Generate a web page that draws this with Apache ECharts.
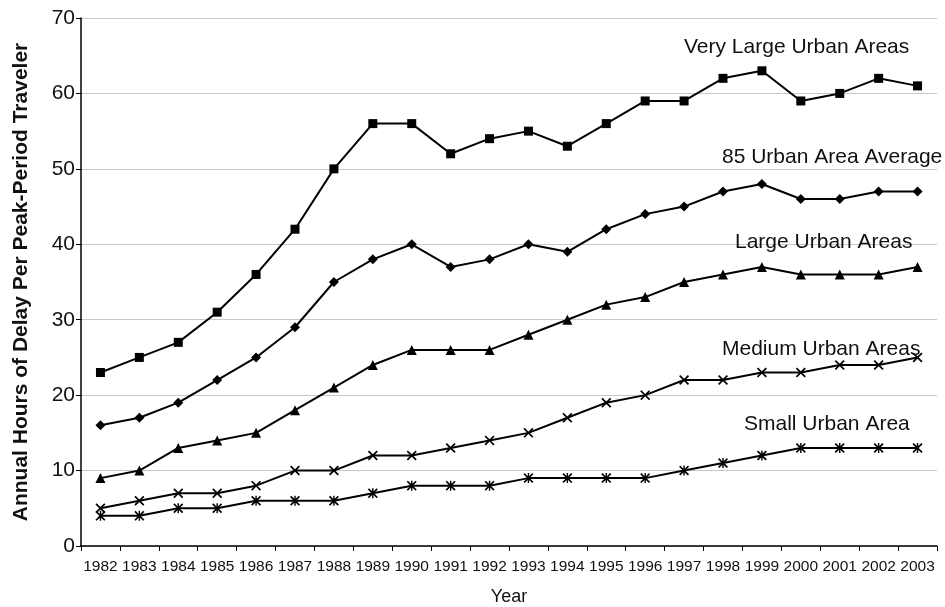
<!DOCTYPE html>
<html>
<head>
<meta charset="utf-8">
<script src="https://cdn.jsdelivr.net/npm/echarts@6/dist/echarts.min.js"></script>
<style>html,body{margin:0;padding:0;background:#fff}#c{width:945px;height:607px}</style>
</head>
<body>
<div id="c"></div>
<script>
var years = ['1982','1983','1984','1985','1986','1987','1988','1989','1990','1991','1992','1993','1994','1995','1996','1997','1998','1999','2000','2001','2002','2003'];
var veryLarge = [23,25,27,31,36,42,50,56,56,52,54,55,53,56,59,59,62,63,59,60,62,61];
var average85 = [16,17,19,22,25,29,35,38,40,37,38,40,39,42,44,45,47,48,46,46,47,47];
var large = [9,10,13,14,15,18,21,24,26,26,26,28,30,32,33,35,36,37,36,36,36,37];
var medium = [5,6,7,7,8,10,10,12,12,13,14,15,17,19,20,22,22,23,23,24,24,25];
var small = [4,4,5,5,6,6,6,7,8,8,8,9,9,9,9,10,11,12,13,13,13,13];
var seriesNames = ['Very Large Urban Areas','85 Urban Area Average','Large Urban Areas','Medium Urban Areas','Small Urban Area'];
var yTicks = [0,10,20,30,40,50,60,70];

var xSym = 'path://M0,1.2 L1.2,0 L5,3.8 L8.8,0 L10,1.2 L6.2,5 L10,8.8 L8.8,10 L5,6.2 L1.2,10 L0,8.8 L3.8,5 Z';
var starSym = 'path://M0,1.2 L1.2,0 L4.3,3.1 L4.3,0 L5.7,0 L5.7,3.1 L8.8,0 L10,1.2 L6.2,5 L10,8.8 L8.8,10 L5.7,6.9 L5.7,10 L4.3,10 L4.3,6.9 L1.2,10 L0,8.8 L3.8,5 Z';

function mk(name, data, symbol, size) {
  return {
    name: name, type: 'line', data: data, symbol: symbol, symbolSize: size,
    lineStyle: {color: '#000', width: 2},
    itemStyle: {color: '#000', borderColor: '#000', borderWidth: 0},
    emphasis: {disabled: true}, animation: false, z: 3
  };
}

var chart = echarts.init(document.getElementById('c'));
var font = 'Liberation Sans, Arial, sans-serif';
function lbl(i, x, y) {
  return {type: 'text', x: x, y: y, z: 10,
    style: {text: seriesNames[i], fill: '#111', font: '21px ' + font, textAlign: 'left', textVerticalAlign: 'middle'}};
}
chart.setOption({
  animation: false,
  grid: {left: 81, right: 8, top: 18, bottom: 61, containLabel: false, outerBoundsMode: 'none'},
  xAxis: {
    type: 'category', data: years, boundaryGap: true,
    name: 'Year', nameLocation: 'middle', nameGap: 42,
    nameTextStyle: {color: '#111', fontSize: 18, fontFamily: font},
    axisLine: {lineStyle: {color: '#000', width: 1.5}},
    axisTick: {show: true, alignWithLabel: false, length: 5, lineStyle: {color: '#000'}},
    axisLabel: {color: '#111', fontSize: 15.5, fontFamily: font, interval: 0, margin: 13},
    splitLine: {show: false}
  },
  yAxis: {
    type: 'value', min: yTicks[0], max: yTicks[yTicks.length-1], interval: 10,
    name: 'Annual Hours of Delay Per Peak-Period Traveler', nameLocation: 'middle', nameGap: 49,
    nameTextStyle: {color: '#111', fontSize: 21, fontWeight: 'bold', fontFamily: font},
    axisLine: {show: true, lineStyle: {color: '#000', width: 1.5}},
    axisTick: {show: true, length: 5, lineStyle: {color: '#000'}},
    axisLabel: {color: '#111', fontSize: 21, fontFamily: font, margin: 6},
    splitLine: {show: true, lineStyle: {color: '#c8c8c8', width: 1.2}}
  },
  series: [
    mk(seriesNames[0], veryLarge, 'rect', 9),
    mk(seriesNames[1], average85, 'diamond', 10),
    mk(seriesNames[2], large, 'triangle', 10),
    mk(seriesNames[3], medium, xSym, 10),
    mk(seriesNames[4], small, starSym, 10)
  ],
  graphic: [
    lbl(0, 684, 47),
    lbl(1, 722, 157),
    lbl(2, 735, 242),
    lbl(3, 722, 349),
    lbl(4, 744, 424)
  ]
});
</script>
</body>
</html>
